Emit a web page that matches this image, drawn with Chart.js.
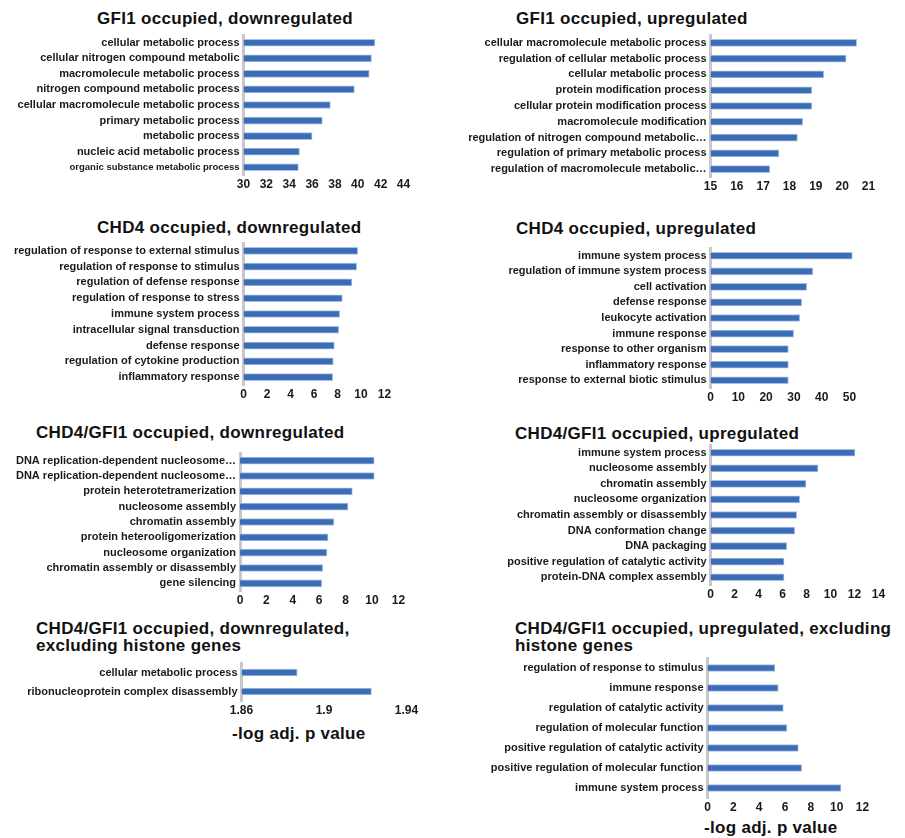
<!DOCTYPE html>
<html>
<head>
<meta charset="utf-8">
<script src="https://cdn.jsdelivr.net/npm/chart.js@4/dist/chart.umd.min.js"></script>
<style>
  html, body { margin: 0; padding: 0; background: #ffffff; }
  #page { position: relative; width: 905px; height: 838px; overflow: hidden;
          font-family: "Liberation Sans", Arial, sans-serif; }
  .title { position: absolute; font-weight: bold; font-size: 17px; line-height: 16.7px;
           color: #111111; white-space: nowrap; letter-spacing: 0.3px; }
  canvas { position: absolute; }
</style>
</head>
<body>
<div id="page">
  <div class="title" style="left:97px;top:11px;">GFI1 occupied, downregulated</div>
  <div class="title" style="left:516px;top:11px;">GFI1 occupied, upregulated</div>
  <div class="title" style="left:97px;top:220px;">CHD4 occupied, downregulated</div>
  <div class="title" style="left:516px;top:221px;">CHD4 occupied, upregulated</div>
  <div class="title" style="left:36px;top:425px;">CHD4/GFI1 occupied, downregulated</div>
  <div class="title" style="left:515px;top:426px;">CHD4/GFI1 occupied, upregulated</div>
  <div class="title" style="left:36px;top:621px;">CHD4/GFI1 occupied, downregulated,<br>excluding histone genes</div>
  <div class="title" style="left:515px;top:621px;">CHD4/GFI1 occupied, upregulated, excluding<br>histone genes</div>
  <div class="title" style="left:232px;top:726px;">-log adj. p value</div>
  <div class="title" style="left:704px;top:820px;">-log adj. p value</div>

  <canvas id="gfi1Down"></canvas>
  <canvas id="gfi1Up"></canvas>
  <canvas id="chd4Down"></canvas>
  <canvas id="chd4Up"></canvas>
  <canvas id="bothDown"></canvas>
  <canvas id="bothUp"></canvas>
  <canvas id="bothDownNoHist"></canvas>
  <canvas id="bothUpNoHist"></canvas>
</div>

<script>
// ---- GO terms and -log adj. p values ----
const gfi1DownTerms = [
  'cellular metabolic process',
  'cellular nitrogen compound metabolic',
  'macromolecule metabolic process',
  'nitrogen compound metabolic process',
  'cellular macromolecule metabolic process',
  'primary metabolic process',
  'metabolic process',
  'nucleic acid metabolic process',
  'organic substance metabolic process'
];
const gfi1DownValues = [41.5, 41.2, 41.0, 39.7, 37.6, 36.9, 36.0, 34.9, 34.8];
const gfi1DownTicks = [30, 32, 34, 36, 38, 40, 42, 44];

const gfi1UpTerms = [
  'cellular macromolecule metabolic process',
  'regulation of cellular metabolic process',
  'cellular metabolic process',
  'protein modification process',
  'cellular protein modification process',
  'macromolecule modification',
  'regulation of nitrogen compound metabolic…',
  'regulation of primary metabolic process',
  'regulation of macromolecule metabolic…'
];
const gfi1UpValues = [20.55, 20.15, 19.3, 18.85, 18.85, 18.5, 18.3, 17.6, 17.25];
const gfi1UpTicks = [15, 16, 17, 18, 19, 20, 21];

const chd4DownTerms = [
  'regulation of response to external stimulus',
  'regulation of response to stimulus',
  'regulation of defense response',
  'regulation of response to stress',
  'immune system process',
  'intracellular signal transduction',
  'defense response',
  'regulation of cytokine production',
  'inflammatory response'
];
const chd4DownValues = [9.72, 9.63, 9.23, 8.41, 8.19, 8.1, 7.73, 7.64, 7.59];
const chd4DownTicks = [0, 2, 4, 6, 8, 10, 12];

const chd4UpTerms = [
  'immune system process',
  'regulation of immune system process',
  'cell activation',
  'defense response',
  'leukocyte activation',
  'immune response',
  'response to other organism',
  'inflammatory response',
  'response to external biotic stimulus'
];
const chd4UpValues = [51.0, 36.8, 34.6, 32.8, 32.1, 29.9, 28.0, 28.0, 28.0];
const chd4UpTicks = [0, 10, 20, 30, 40, 50];

const bothDownTerms = [
  'DNA replication-dependent nucleosome…',
  'DNA replication-dependent nucleosome…',
  'protein heterotetramerization',
  'nucleosome assembly',
  'chromatin assembly',
  'protein heterooligomerization',
  'nucleosome organization',
  'chromatin assembly or disassembly',
  'gene silencing'
];
const bothDownValues = [10.17, 10.17, 8.51, 8.18, 7.12, 6.67, 6.59, 6.27, 6.19];
const bothDownTicks = [0, 2, 4, 6, 8, 10, 12];

const bothUpTerms = [
  'immune system process',
  'nucleosome assembly',
  'chromatin assembly',
  'nucleosome organization',
  'chromatin assembly or disassembly',
  'DNA conformation change',
  'DNA packaging',
  'positive regulation of catalytic activity',
  'protein-DNA complex assembly'
];
const bothUpValues = [12.04, 8.96, 7.96, 7.43, 7.18, 7.02, 6.35, 6.13, 6.13];
const bothUpTicks = [0, 2, 4, 6, 8, 10, 12, 14];

const bothDownNoHistTerms = [
  'cellular metabolic process',
  'ribonucleoprotein complex disassembly'
];
const bothDownNoHistValues = [1.887, 1.923];
const bothDownNoHistTicks = [1.86, 1.9, 1.94];

const bothUpNoHistTerms = [
  'regulation of response to stimulus',
  'immune response',
  'regulation of catalytic activity',
  'regulation of molecular function',
  'positive regulation of catalytic activity',
  'positive regulation of molecular function',
  'immune system process'
];
const bothUpNoHistValues = [5.22, 5.48, 5.87, 6.15, 7.03, 7.29, 10.33];
const bothUpNoHistTicks = [0, 2, 4, 6, 8, 10, 12];

// ---- shared look ----
Chart.defaults.font.family = '"Liberation Sans", Arial, sans-serif';
const BAR_FILL = '#3a6db5';
const BAR_EDGE = '#a9c0e2';
const AXIS_GREY = '#c8c8c8';
const TEXT_DARK = '#1a1a1a';
const X_AXIS_H = 26;   // room for the value labels under each plot
const TOP_ROOM = 16;   // room above the plot for the first category label

// column: left or right half of the page; area: plot area [left, top, right, bottom] on the page
function drawPanel(id, terms, values, ticks, geo) {
  const el = document.getElementById(id);
  const [al, at, ar, ab] = geo.area;
  const bx = geo.column === 'right' ? 450 : 0;
  const bw = geo.column === 'right' ? 455 : 450;
  const by = at - TOP_ROOM;
  const bh = ab - by + X_AXIS_H + 4;
  el.style.left = bx + 'px';
  el.style.top = by + 'px';
  el.width = bw;
  el.height = bh;
  const small = geo.smallLabels || [];
  const axisMax = geo.max !== undefined ? geo.max : ticks[ticks.length - 1];

  new Chart(el, {
    type: 'bar',
    data: {
      labels: terms,
      datasets: [{
        data: values,
        base: ticks[0],
        backgroundColor: BAR_FILL,
        borderColor: BAR_EDGE,
        borderWidth: 1,
        borderSkipped: 'start',
        barThickness: 7
      }]
    },
    options: {
      indexAxis: 'y',
      responsive: false,
      maintainAspectRatio: false,
      animation: false,
      layout: { padding: { left: 0, top: TOP_ROOM, right: bx + bw - ar, bottom: 4 } },
      plugins: { legend: { display: false }, tooltip: { enabled: false }, title: { display: false } },
      scales: {
        x: {
          type: 'linear',
          min: ticks[0],
          max: axisMax,
          afterBuildTicks: s => { s.ticks = ticks.map(v => ({ value: v })); },
          afterFit: s => { s.height = X_AXIS_H; },
          grid: { display: false, drawTicks: false },
          border: { display: false },
          ticks: {
            autoSkip: false, maxRotation: 0, padding: 2, color: TEXT_DARK,
            font: { size: 12, weight: 'bold' },
            callback: v => String(v)
          }
        },
        y: {
          afterFit: s => { s.width = al - bx; },
          grid: { display: false, drawTicks: false },
          border: { display: true, color: AXIS_GREY, width: 3 },
          ticks: {
            autoSkip: false, padding: 4, color: TEXT_DARK,
            font: ctx => ({ size: small.includes(ctx.index) ? 9.5 : 11, weight: 'bold' })
          }
        }
      }
    }
  });
}

drawPanel('gfi1Down', gfi1DownTerms, gfi1DownValues, gfi1DownTicks,
  { column: 'left', area: [243.5, 35, 403.5, 175], smallLabels: [8] });
drawPanel('gfi1Up', gfi1UpTerms, gfi1UpValues, gfi1UpTicks,
  { column: 'right', area: [710.5, 35, 868.5, 177] });
drawPanel('chd4Down', chd4DownTerms, chd4DownValues, chd4DownTicks,
  { column: 'left', area: [243.5, 243, 384.5, 385] });
drawPanel('chd4Up', chd4UpTerms, chd4UpValues, chd4UpTicks,
  { column: 'right', area: [710.5, 248, 863.4, 388], max: 55 });
drawPanel('bothDown', bothDownTerms, bothDownValues, bothDownTicks,
  { column: 'left', area: [240, 453, 398.4, 591.7] });
drawPanel('bothUp', bothUpTerms, bothUpValues, bothUpTicks,
  { column: 'right', area: [710.5, 445, 878.5, 585] });
drawPanel('bothDownNoHist', bothDownNoHistTerms, bothDownNoHistValues, bothDownNoHistTicks,
  { column: 'left', area: [241.5, 662.6, 406.5, 701.4] });
drawPanel('bothUpNoHist', bothUpNoHistTerms, bothUpNoHistValues, bothUpNoHistTicks,
  { column: 'right', area: [707.5, 658.3, 862.5, 799] });
</script>
</body>
</html>
